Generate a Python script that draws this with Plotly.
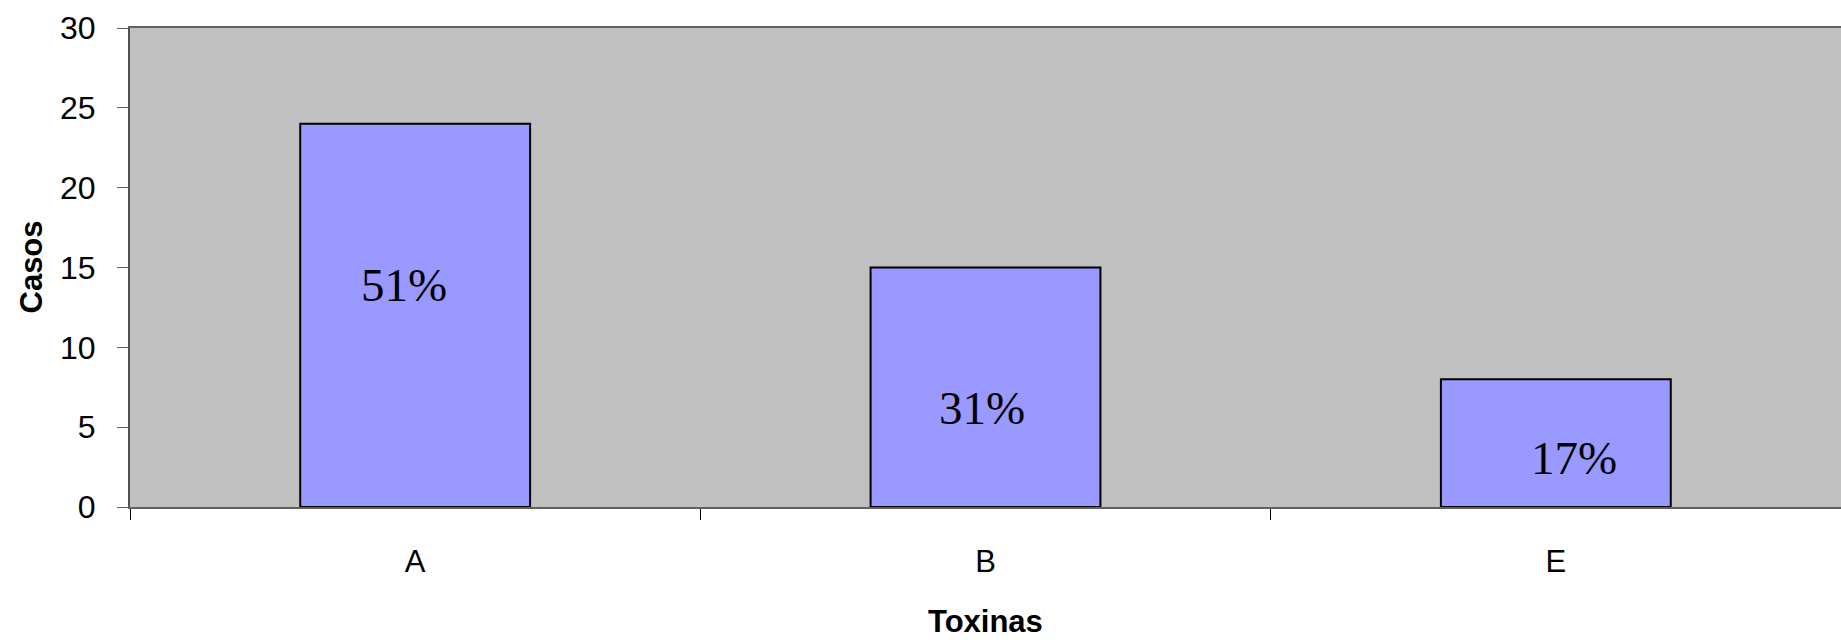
import plotly.graph_objects as go

# Casos por toxina
toxinas = ["A", "B", "E"]
casos = [24, 15, 8]
porcentajes = ["51%", "31%", "17%"]
# Vertical placement of the percentage labels (in "Casos" units) and small horizontal nudges (px)
label_y = [13.9, 6.2, 3.07]
label_dx = [-11, -4, 18]

y_ticks = [0, 5, 10, 15, 20, 25, 30]

fig = go.Figure()
fig.add_trace(go.Bar(
    x=toxinas,
    y=casos,
    width=0.403,
    marker=dict(color="#9999FF", line=dict(color="#000000", width=2)),
    hoverinfo="skip",
))

for cat, yv, txt, dx in zip(toxinas, label_y, porcentajes, label_dx):
    fig.add_annotation(
        x=cat, y=yv, text=txt, showarrow=False, xshift=dx,
        xanchor="center", yanchor="middle",
        font=dict(family="Liberation Serif, Times New Roman, serif", size=47, color="#000000"),
    )

# Axis titles
fig.add_annotation(
    xref="paper", yref="paper", x=0, y=0.5, xshift=-99,
    text="<b>Casos</b>", textangle=-90, showarrow=False,
    xanchor="center", yanchor="middle",
    font=dict(family="Liberation Sans, Arial, sans-serif", size=31, color="#000000"),
)
fig.add_annotation(
    xref="paper", yref="paper", x=0.5, y=0, yshift=-114,
    text="<b>Toxinas</b>", showarrow=False,
    xanchor="center", yanchor="middle",
    font=dict(family="Liberation Sans, Arial, sans-serif", size=31, color="#000000"),
)

fig.update_layout(
    width=1841,
    height=640,
    margin=dict(l=130, r=0, t=28, b=133),
    paper_bgcolor="#FFFFFF",
    plot_bgcolor="#C0C0C0",
    showlegend=False,
    font=dict(family="Liberation Sans, Arial, sans-serif", size=31, color="#000000"),
    xaxis=dict(
        type="category",
        tickson="boundaries",
        ticks="outside",
        ticklen=11,
        tickwidth=1,
        tickcolor="#000000",
        showline=True,
        linecolor="#606060",
        linewidth=2,
        mirror=True,
        showgrid=False,
        ticklabelstandoff=26,
        tickfont=dict(size=31),
    ),
    yaxis=dict(
        range=[0, 30],
        tickvals=y_ticks,
        ticks="outside",
        ticklen=11,
        tickwidth=1,
        tickcolor="#606060",
        showline=True,
        linecolor="#505050",
        linewidth=2,
        showgrid=False,
        zeroline=False,
        ticklabelstandoff=15,
        tickfont=dict(size=32),
    ),
)

fig.write_html("out.html")
